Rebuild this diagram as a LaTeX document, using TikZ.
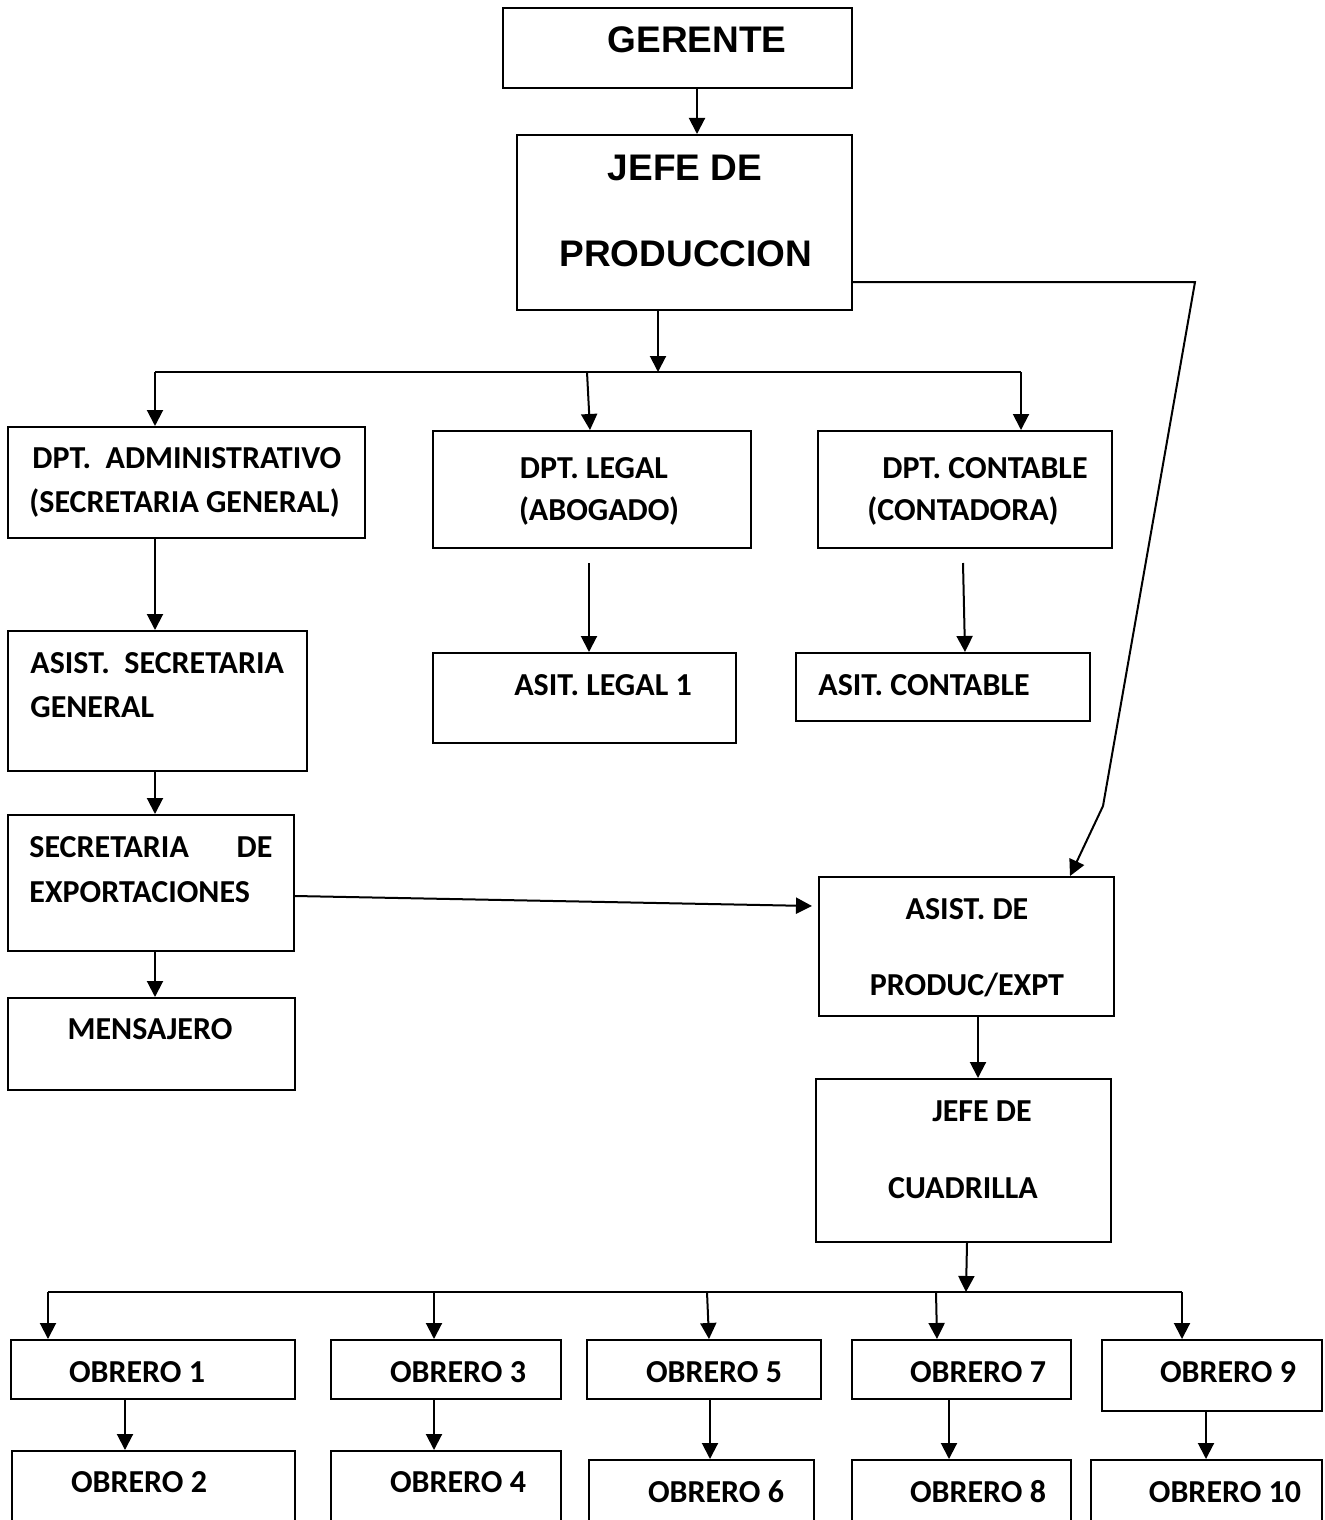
\documentclass[tikz,border=0pt]{standalone}
\usepackage{fontspec}
\setmainfont{Carlito}
\newfontfamily\arialfont{Liberation Sans}
\usetikzlibrary{arrows.meta,fit}
\begin{document}
\begin{tikzpicture}[x=0.5pt,y=-0.5pt,
  box/.style={draw, line width=1pt, inner sep=0pt},
  arr/.style={line width=1pt, -{Triangle[length=8pt,width=8pt]}},
  ln/.style={line width=1pt},
  txt/.style={inner sep=0pt, font=\bfseries\fontsize{16}{19}\selectfont},
  head/.style={inner sep=0pt, font=\arialfont\bfseries\fontsize{18.5}{21}\selectfont}]
\useasboundingbox (0,0) rectangle (1324,1520);
\clip (0,0) rectangle (1324,1520);
% boxes
\node[box, fit={(503,8)(852,88)}] (ger) {};
\node[box, fit={(517,135)(852,310)}] (jp) {};
\node[box, fit={(8,427)(365,538)}] (adm) {};
\node[box, fit={(433,431)(751,548)}] (leg) {};
\node[box, fit={(818,431)(1112,548)}] (con) {};
\node[box, fit={(8,631)(307,771)}] (asg) {};
\node[box, fit={(8,815)(294,951)}] (sex) {};
\node[box, fit={(8,998)(295,1090)}] (men) {};
\node[box, fit={(433,653)(736,743)}] (al) {};
\node[box, fit={(796,653)(1090,721)}] (ac) {};
\node[box, fit={(819,877)(1114,1016)}] (ape) {};
\node[box, fit={(816,1079)(1111,1242)}] (jc) {};
\node[box, fit={(11,1340)(295,1399)}] (o1) {};
\node[box, fit={(12,1451)(295,1545)}] (o2) {};
\node[box, fit={(331,1340)(561,1399)}] (o3) {};
\node[box, fit={(331,1451)(561,1545)}] (o4) {};
\node[box, fit={(587,1340)(821,1399)}] (o5) {};
\node[box, fit={(589,1460)(814,1545)}] (o6) {};
\node[box, fit={(852,1340)(1071,1399)}] (o7) {};
\node[box, fit={(852,1460)(1071,1545)}] (o8) {};
\node[box, fit={(1102,1340)(1322,1411)}] (o9) {};
\node[box, fit={(1091,1460)(1322,1545)}] (o10) {};
% texts
\node[head, anchor=base] (tger) at (697,53) {GERENTE};
\node[head, anchor=base] (tjp1) at (685,180) {JEFE DE};
\node[head, anchor=base] (tjp2) at (686,266) {PRODUCCION};
\node[txt, anchor=base west] (tadm1) at (32,468) {DPT.\ \ ADMINISTRATIVO};
\node[txt, anchor=base west] (tadm2) at (29,512) {(SECRETARIA GENERAL)};
\node[txt, anchor=base] (tleg1) at (594,478) {DPT. LEGAL};
\node[txt, anchor=base] (tleg2) at (599,520) {(ABOGADO)};
\node[txt, anchor=base] (tcon1) at (985,478) {DPT. CONTABLE};
\node[txt, anchor=base] (tcon2) at (963,520) {(CONTADORA)};
\node[txt, anchor=base west] (tasg1) at (30,673) {ASIST.\ \ SECRETARIA};
\node[txt, anchor=base west] (tasg2) at (30,717) {GENERAL};
\node[txt, anchor=base west] (tsex1) at (29,857) {\hbox to 121.5pt{SECRETARIA\hfil DE}};
\node[txt, anchor=base west] (tsex2) at (29,902) {EXPORTACIONES};
\node[txt, anchor=base] (tmen) at (150,1039) {MENSAJERO};
\node[txt, anchor=base] (tal) at (603,695) {ASIT. LEGAL 1};
\node[txt, anchor=base] (tac) at (924,695) {ASIT. CONTABLE};
\node[txt, anchor=base] (tape1) at (967,919) {ASIST. DE};
\node[txt, anchor=base] (tape2) at (967,995) {PRODUC/EXPT};
\node[txt, anchor=base] (tjc1) at (982,1121) {JEFE DE};
\node[txt, anchor=base] (tjc2) at (963,1198) {CUADRILLA};
\node[txt, anchor=base] (to1) at (137,1382) {OBRERO 1};
\node[txt, anchor=base] (to2) at (139,1492) {OBRERO 2};
\node[txt, anchor=base] (to3) at (458,1382) {OBRERO 3};
\node[txt, anchor=base] (to4) at (458,1492) {OBRERO 4};
\node[txt, anchor=base] (to5) at (714,1382) {OBRERO 5};
\node[txt, anchor=base] (to6) at (716,1502) {OBRERO 6};
\node[txt, anchor=base] (to7) at (978,1382) {OBRERO 7};
\node[txt, anchor=base] (to8) at (978,1502) {OBRERO 8};
\node[txt, anchor=base] (to9) at (1228,1382) {OBRERO 9};
\node[txt, anchor=base] (to10) at (1225,1502) {OBRERO 10};
% helper coordinates
\coordinate (bc) at (658,372);
\coordinate (bl) at (155,372);
\coordinate (bm) at (587,372);
\coordinate (br) at (1021,372);
\coordinate (la) at (589,563);
\coordinate (ca) at (963,563);
\coordinate (k1) at (1195,282);
\coordinate (k2) at (1103,806);
\coordinate (k3) at (1070,877);
\coordinate (vx) at (978,1050);
\coordinate (bb) at (966,1292);
\coordinate (b1) at (48,1292);
\coordinate (b3) at (434,1292);
\coordinate (b5) at (707,1292);
\coordinate (b7) at (936,1292);
\coordinate (b9) at (1182,1292);
\coordinate (d1) at (125,1420);
\coordinate (d3) at (434,1420);
\coordinate (d5) at (710,1420);
\coordinate (d7) at (949,1420);
\coordinate (d9) at (1206,1420);
% connectors
\draw[arr] (ger.south -| tger) -- (jp.north -| tger);
\draw[arr] (jp.south -| bc) -- (bc);
\draw[ln] (bl) -- (br);
\draw[arr] (bl) -- (adm.north -| bl);
\draw[arr] (bm) -- ([xshift=1.5pt]leg.north -| bm);
\draw[arr] (br) -- (con.north -| br);
\draw[arr] (adm.south -| bl) -- (asg.north -| bl);
\draw[arr] (asg.south -| bl) -- (sex.north -| bl);
\draw[arr] (sex.south -| bl) -- (men.north -| bl);
\draw[arr] (la) -- (al.north -| la);
\draw[arr] (ca) -- ([xshift=1pt]ac.north -| ca);
\draw[arr] ([yshift=-6.5pt]sex.east) -- ([yshift=20.25pt,xshift=-3pt]ape.west);
\draw[ln] ([yshift=-29.75pt]jp.east) -- (k1) -- (k2);
\draw[arr] (k2) -- (ape.north -| k3);
\draw[arr] (ape.south -| vx) -- (jc.north -| vx);
\draw[arr] ([xshift=0.5pt]jc.south -| bb) -- (bb);
\draw[ln] (b1) -- (b9);
\draw[arr] (b1) -- (o1.north -| b1);
\draw[arr] (b3) -- (o3.north -| b3);
\draw[arr] (b5) -- ([xshift=1pt]o5.north -| b5);
\draw[arr] (b7) -- ([xshift=0.5pt]o7.north -| b7);
\draw[arr] (b9) -- (o9.north -| b9);
\draw[arr] (o1.south -| d1) -- (o2.north -| d1);
\draw[arr] (o3.south -| d3) -- (o4.north -| d3);
\draw[arr] (o5.south -| d5) -- (o6.north -| d5);
\draw[arr] (o7.south -| d7) -- (o8.north -| d7);
\draw[arr] (o9.south -| d9) -- (o10.north -| d9);
\end{tikzpicture}
\end{document}
